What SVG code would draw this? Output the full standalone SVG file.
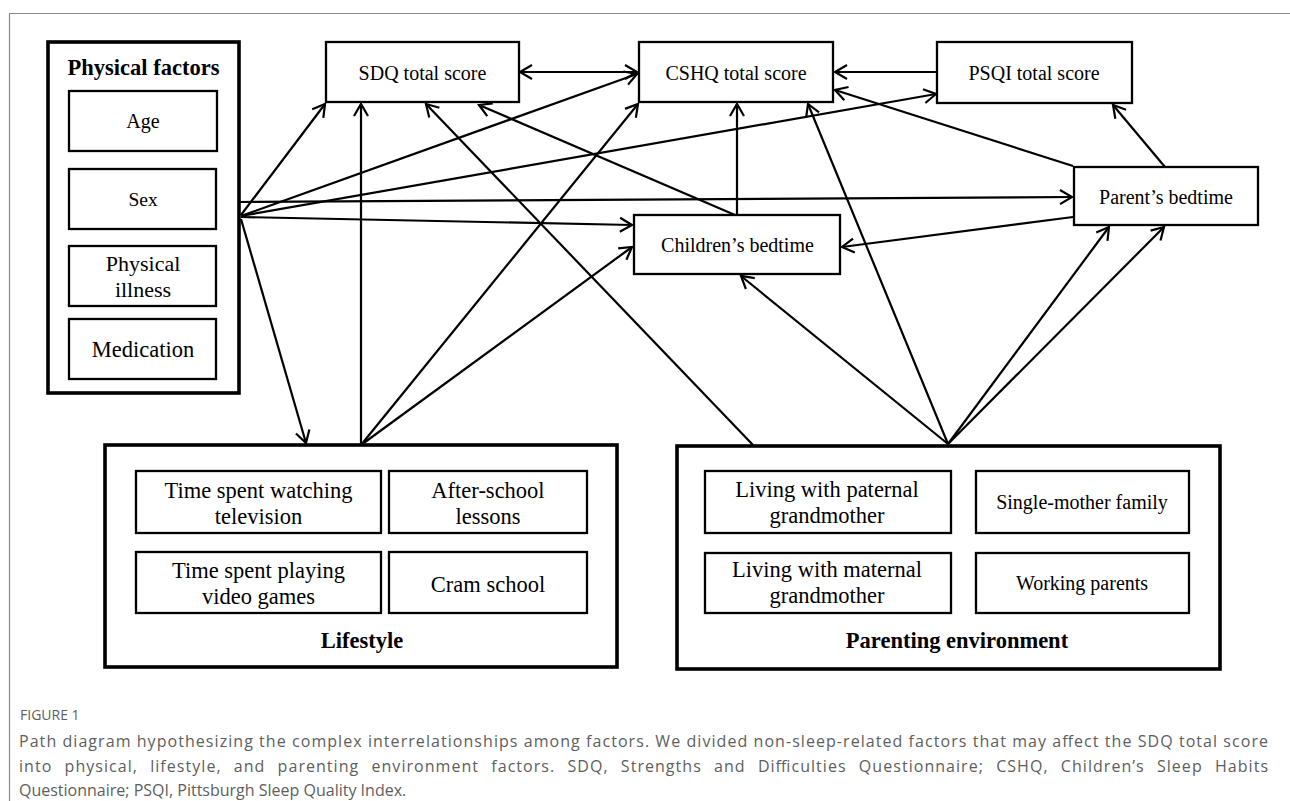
<svg xmlns="http://www.w3.org/2000/svg" width="1290" height="801" viewBox="0 0 1290 801">
<style>
.box{fill:#fff;stroke:#000;stroke-width:2.3}
.grp{fill:#fff;stroke:#000;stroke-width:3.6}
.t{font-family:"Liberation Serif","Times New Roman",serif;font-size:20px;fill:#000;text-anchor:middle}
.tl{font-family:"Liberation Serif","Times New Roman",serif;font-size:22.5px;fill:#000;text-anchor:middle}
.tb{font-family:"Liberation Serif","Times New Roman",serif;font-size:22.5px;font-weight:bold;fill:#000;text-anchor:middle}
.c{stroke:#000;stroke-width:2.2;fill:none;marker-end:url(#ah)}
.cap{font-family:"Open Sans","Noto Sans",sans-serif;fill:#5e5e5e;font-size:16px}
</style>
<defs>
<marker id="ah" markerUnits="userSpaceOnUse" markerWidth="16" markerHeight="16" viewBox="0 0 16 16" refX="13" refY="7" orient="auto-start-reverse" overflow="visible">
<path d="M1,0 L13,7 L1,14" fill="none" stroke="#000" stroke-width="2.2"/>
</marker>
</defs>
<rect x="0" y="0" width="1290" height="801" fill="#fff"/>
<path d="M9.5,801 V13.5 H1290" fill="none" stroke="#8a8a8a" stroke-width="1.2"/>

<g id="physical">
<rect class="grp" x="48" y="42" width="191" height="351"/>
<text class="tb" x="143.5" y="75">Physical factors</text>
<g id="age"><rect class="box" x="69" y="91" width="148" height="60"/><text class="t" x="143" y="128">Age</text></g>
<g id="sex"><rect class="box" x="69" y="169" width="147" height="60"/><text class="t" x="143" y="206" style="font-size:19.5px">Sex</text></g>
<g id="illness"><rect class="box" x="69" y="246" width="147" height="60"/><text class="t" x="143" y="271" style="font-size:22px">Physical</text><text class="t" x="143" y="297" style="font-size:22px">illness</text></g>
<g id="medication"><rect class="box" x="69" y="319" width="147" height="60"/><text class="tl" x="143" y="357">Medication</text></g>
</g>

<g id="sdq"><rect class="box" x="326" y="42" width="193" height="60"/><text class="t" x="422.5" y="80">SDQ total score</text></g>
<g id="cshq"><rect class="box" x="639" y="42" width="194" height="60"/><text class="t" x="736" y="80">CSHQ total score</text></g>
<g id="psqi"><rect class="box" x="937" y="42" width="195" height="61"/><text class="t" x="1034" y="80">PSQI total score</text></g>
<g id="parent"><rect class="box" x="1074" y="167" width="184" height="58"/><text class="t" x="1166" y="204">Parent’s bedtime</text></g>
<g id="children"><rect class="box" x="634" y="215" width="206" height="59"/><text class="t" x="737.5" y="252">Children’s bedtime</text></g>

<g id="lifestyle">
<rect class="grp" x="105" y="445" width="512" height="222"/>
<g id="tv"><rect class="box" x="136" y="471" width="245" height="62"/><text class="tl" x="258.5" y="498">Time spent watching</text><text class="tl" x="258.5" y="524">television</text></g>
<g id="afterschool"><rect class="box" x="389" y="471" width="198" height="62"/><text class="tl" x="488" y="498">After-school</text><text class="tl" x="488" y="524">lessons</text></g>
<g id="games"><rect class="box" x="136" y="552" width="245" height="61"/><text class="tl" x="258.5" y="578">Time spent playing</text><text class="tl" x="258.5" y="604">video games</text></g>
<g id="cram"><rect class="box" x="389" y="552" width="198" height="61"/><text class="tl" x="488" y="592">Cram school</text></g>
<text class="tb" x="362" y="648">Lifestyle</text>
</g>

<g id="parenting">
<rect class="grp" x="677" y="446" width="543" height="223"/>
<g id="paternal"><rect class="box" x="705" y="471" width="246" height="62"/><text class="tl" x="827" y="497">Living with paternal</text><text class="tl" x="827" y="523">grandmother</text></g>
<g id="single"><rect class="box" x="976" y="471" width="213" height="62"/><text class="t" x="1082" y="509">Single-mother family</text></g>
<g id="maternal"><rect class="box" x="705" y="553" width="246" height="60"/><text class="tl" x="827" y="577">Living with maternal</text><text class="tl" x="827" y="603">grandmother</text></g>
<g id="working"><rect class="box" x="976" y="553" width="213" height="60"/><text class="t" x="1082" y="590">Working parents</text></g>
<text class="tb" x="957" y="648">Parenting environment</text>
</g>

<g id="connectors">
<path class="c" d="M241,215 L325,104"/>
<path class="c" d="M241,216 L637,74"/>
<path class="c" d="M241,216 L936,94"/>
<path class="c" d="M240,202 L1072,197"/>
<path class="c" d="M241,217 L632,225"/>
<path class="c" d="M241,219 L306,443"/>
<path class="c" d="M361,445 L361,104"/>
<path class="c" d="M361,445 L638,104"/>
<path class="c" d="M361,445 L632,247"/>
<path class="c" d="M948,444 L741,276"/>
<path class="c" d="M948,444 L808,104"/>
<path class="c" d="M948,444 L1109,227"/>
<path class="c" d="M948,444 L1164,227"/>
<path class="c" d="M753,445 L426,104"/>
<path class="c" d="M735,215 L479,105"/>
<path class="c" d="M737,215 L737,104"/>
<path class="c" d="M520,72 L637,72" style="marker-start:url(#ah)"/>
<path class="c" d="M937,72 L835,72"/>
<path class="c" d="M1073,166 L835,90"/>
<path class="c" d="M1165,167 L1113,105"/>
<path class="c" d="M1073,217 L842,247"/>
</g>

<g id="caption">
<text class="cap" x="20" y="720" style="font-size:14px">FIGURE 1</text>
<text class="cap" x="19" y="747" textLength="1249" lengthAdjust="spacing">Path diagram hypothesizing the complex interrelationships among factors. We divided non-sleep-related factors that may affect the SDQ total score</text>
<text class="cap" x="19" y="772" textLength="1249" lengthAdjust="spacing" word-spacing="7">into physical, lifestyle, and parenting environment factors. SDQ, Strengths and Difficulties Questionnaire; CSHQ, Children’s Sleep Habits</text>
<text class="cap" x="19" y="796">Questionnaire; PSQI, Pittsburgh Sleep Quality Index.</text>
</g>
</svg>
